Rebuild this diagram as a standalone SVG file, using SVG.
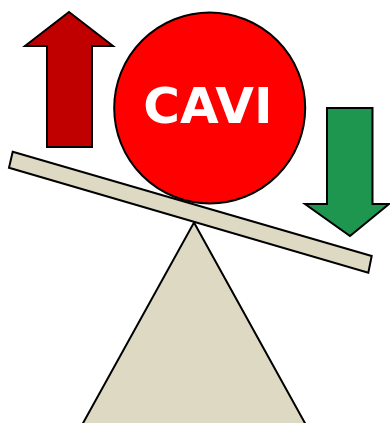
<svg xmlns="http://www.w3.org/2000/svg" width="390" height="423" viewBox="0 0 390 423">
<style>
.s{stroke:#000;stroke-width:2;stroke-linejoin:miter}
.beige{fill:#DDD9C3}
</style>
<rect width="390" height="423" fill="#fff"/>
<g id="fulcrum"><polygon class="s beige" points="194,222.5 306,425 82,425"/></g>
<g id="plank"><polygon class="s beige" points="12.7,151.7 371.7,256 368.3,272.7 9,167.7"/></g>
<g id="up-arrow"><polygon class="s" fill="#C00000" points="69,12 113,46 92,46 92,147 47,147 47,46 25,46"/></g>
<g id="down-arrow"><polygon class="s" fill="#1E9650" points="327,108 372.5,108 372.5,204 389,204 350,236 305,204 327,204"/></g>
<g id="cavi"><circle class="s" cx="209.7" cy="108" r="95.5" fill="#FF0000"/>
<text x="208" y="122.7" text-anchor="middle" font-family="DejaVu Sans, Verdana, sans-serif" font-weight="bold" font-size="50" fill="#fff">CAVI</text></g>
</svg>
